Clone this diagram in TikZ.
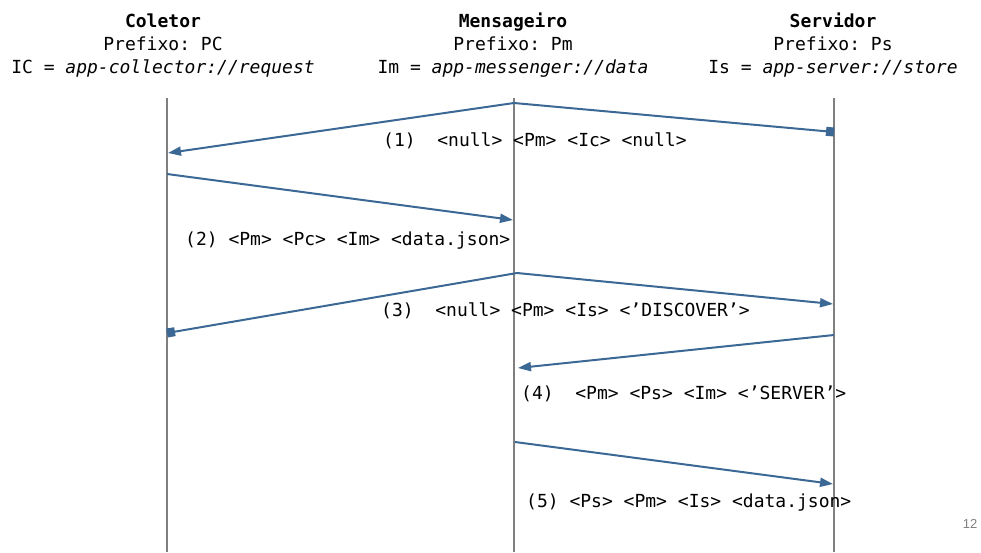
\documentclass[tikz,border=0pt]{standalone}
\usepackage{fontspec}
\setmonofont{DejaVu Sans Mono}
\newfontfamily\pagefont{Liberation Sans}
\usetikzlibrary{arrows.meta}
\definecolor{msgblue}{HTML}{3B6894}
\definecolor{lifegray}{HTML}{7F7F7F}
\begin{document}
\begin{tikzpicture}[x=1pt,y=-1pt,
  lifeline/.style={draw=lifegray,line width=1.8pt},
  msg/.style={draw=msgblue,line width=2pt,-{Triangle[length=13pt,width=9pt]}},
  msgsq/.style={draw=msgblue,line width=2pt,-{Square[length=8pt,width=9pt]}},
  head/.style={inner sep=0pt,anchor=base,font=\ttfamily\fontsize{18}{21}\selectfont},
  lbl/.style={inner sep=0pt,anchor=base west,font=\ttfamily\fontsize{18}{21}\selectfont}]
\useasboundingbox (0,0) rectangle (981,552);
% headers
\node[head] (colA) at (163,27) {\textbf{Coletor}};
\node[head] (colB) at (163,50) {Prefixo: PC};
\node[head] (colC) at (163,73) {IC = \textit{app-collector://request}};
\node[head] (menA) at (513,27) {\textbf{Mensageiro}};
\node[head] (menB) at (513,50) {Prefixo: Pm};
\node[head] (menC) at (513,73) {Im = \textit{app-messenger://data}};
\node[head] (serA) at (833,27) {\textbf{Servidor}};
\node[head] (serB) at (833,50) {Prefixo: Ps};
\node[head] (serC) at (833,73) {Is = \textit{app-server://store}};
% lifelines
\coordinate (cT) at (167,98); \coordinate (cB) at (167,552);
\coordinate (mT) at (514,98); \coordinate (mB) at (514,552);
\coordinate (sT) at (834,98); \coordinate (sB) at (834,552);
\draw[lifeline] (cT) -- (cB);
\draw[lifeline] (mT) -- (mB);
\draw[lifeline] (sT) -- (sB);
% message points
\coordinate (m1) at (514,103);
\coordinate (c1) at (168,153);
\coordinate (s1) at (834,132);
\coordinate (c2) at (167,174);
\coordinate (m2) at (513,220);
\coordinate (m3) at (517,273);
\coordinate (s3) at (833,304);
\coordinate (c3) at (167,333);
\coordinate (s4) at (834,335);
\coordinate (m4) at (518,368);
\coordinate (m5) at (515,442);
\coordinate (s5) at (833,484);
\draw[msg] (m1) -- (c1);
\draw[msgsq] (m1) -- (s1);
\draw[msg] (c2) -- (m2);
\draw[msg] (m3) -- (s3);
\draw[msgsq] (m3) -- (c3);
\draw[msg] (s4) -- (m4);
\draw[msg] (m5) -- (s5);
% labels
\node[lbl] (l1) at (383,146) {(1)~~<null>~<Pm>~<Ic>~<null>};
\node[lbl] (l2) at (185,245) {(2)~<Pm>~<Pc>~<Im>~<data.json>};
\node[lbl] (l3) at (381,316) {(3)~~<null>~<Pm>~<Is>~<’DISCOVER’>};
\node[lbl] (l4) at (521,399) {(4)~~<Pm>~<Ps>~<Im>~<’SERVER’>};
\node[lbl] (l5) at (526,507) {(5)~<Ps>~<Pm>~<Is>~<data.json>};
\node[inner sep=0pt,anchor=base,text=lifegray,font=\pagefont\fontsize{13}{15}\selectfont] (pg) at (970,528) {12};
\end{tikzpicture}
\end{document}
